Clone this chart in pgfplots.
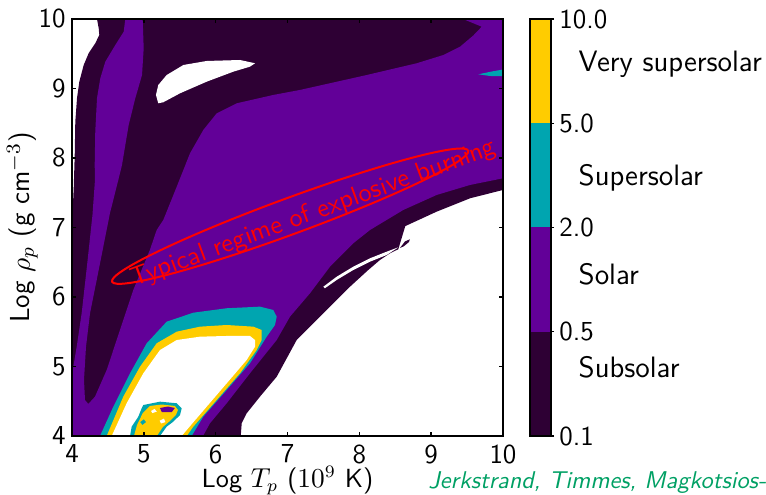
\documentclass[border=0pt]{standalone}
\usepackage{pgfplots}
\pgfplotsset{compat=1.18}

\definecolor{csub}{RGB}{46,0,52}
\definecolor{csol}{RGB}{98,0,152}
\definecolor{csup}{RGB}{0,165,176}
\definecolor{cvery}{RGB}{255,204,0}
\definecolor{cgreen}{RGB}{0,160,100}

\begin{document}
\begin{tikzpicture}[font=\sffamily\fontsize{11}{13}\selectfont]
\useasboundingbox (-28.8pt,-23.6pt) rectangle (277.6pt,174.4pt);
\clip (-28.8pt,-23.6pt) rectangle (277.6pt,174.4pt);

% main map
\begin{axis}[
  at={(0,0)}, anchor=south west,
  scale only axis, width=172.4pt, height=166.8pt,
  xmin=4, xmax=10, ymin=4, ymax=10,
  xtick={4,5,...,10}, ytick={4,5,...,10},
  axis on top,
  axis line style={line width=0.7pt},
  tick style={black, line width=0.6pt},
  major tick length=1.7pt,
  /pgf/number format/assume math mode=true,
  xlabel={Log $T_p$ ($10^9$ K)},
  ylabel={Log $\rho_p$ (g cm$^{-3}$)},
  xlabel style={font=\sffamily\fontsize{10.5}{12}\selectfont},
  xlabel shift=-5.8pt,
  ylabel shift=-6.5pt,
  yticklabel style={xshift=1pt},
]
% subsolar
\addplot[fill=csub, draw=none] coordinates {
(4.348,10) (10,10) (10,7.540) (9.541,7.420) (9.077,7.228) (8.640,7.020)
(8.590,6.850) (8.543,6.687) (8.427,6.629) (8.288,6.533) (8.125,6.389) (7.870,6.148)
(7.638,5.910) (7.453,5.717) (7.268,5.525) (7.128,5.381) (6.850,4.853)
(6.617,4.566) (6.432,4.327) (6.363,4.183) (6.349,4) (4,4) (4,7.0)
(4.007,7.180) (4.024,7.568) (4.038,8.043) (4.046,8.522) (4.070,8.863)
(4.102,9.098) (4.163,9.338) (4.232,9.507) (4.324,9.650) (4.380,9.770)
(4.372,9.866)};
% solar
\addplot[fill=csol, draw=none] coordinates {
(4.742,10) (4.720,9.817) (4.603,9.626) (4.464,9.386) (4.394,9.147)
(4.348,8.859) (4.324,8.379) (4.316,7.899) (4.320,7.684) (4.285,7.180)
(4.213,6.489) (4.135,5.770) (4.065,5.281) (4.018,4.993) (4,4.806) (4,4)
(5.824,4) (5.921,4.183) (6.154,4.471) (6.478,4.902) (6.850,5.381)
(7.035,5.717) (7.313,6.053) (7.592,6.436) (7.916,6.773) (8.149,6.964)
(8.612,7.252) (9.077,7.468) (9.541,7.612) (10,7.708) (10,10) (9.443,10)
(9.704,9.889) (9.587,9.763) (9.402,9.601) (9.170,9.482) (8.799,9.363)
(8.103,9.194) (7.174,8.979) (6.802,8.907) (6.293,8.787) (6.014,8.643)
(5.828,8.403) (5.643,8.068) (5.458,7.587) (5.271,7.108) (5.179,6.964)
(5.084,6.676) (4.853,6.101) (4.668,5.525) (4.483,4.950) (4.320,4.566)
(4.227,4.461) (4.181,4.518) (4.167,4.806) (4.195,5.285) (4.251,5.765)
(4.344,6.245) (4.436,6.724) (4.529,7.209) (4.645,7.684) (4.696,7.899)
(4.789,8.475) (4.881,8.859) (4.975,9.194) (4.998,9.578) (4.984,10)};
% white island at the top
\addplot[fill=white, draw=none] coordinates {
(6.548,9.363) (6.339,9.410) (5.875,9.396) (5.550,9.338) (5.318,9.194)
(5.201,9.050) (5.169,8.907) (5.201,8.787) (5.271,8.802) (5.504,8.931)
(5.875,9.098) (6.246,9.242) (6.478,9.314)};
% white sliver in the lower right band
\addplot[fill=white, draw=none] coordinates {
(7.499,6.148) (7.685,6.292) (7.916,6.436) (8.149,6.557) (8.381,6.652)
(8.543,6.715) (8.381,6.604) (8.149,6.508) (7.916,6.388) (7.685,6.245)
(7.520,6.125)};
\addplot[fill=csub, draw=none] coordinates {
(8.566,6.705) (8.636,6.800) (8.705,6.830) (8.690,6.790) (8.620,6.730)};
% supersolar wedge at the right edge
\addplot[fill=csup, draw=none] coordinates {
(9.657,9.204) (9.847,9.245) (10,9.273) (10,9.176) (9.819,9.180)};
% low density loop
\addplot[fill=csup, draw=none] coordinates {
(4.390,4) (4.575,4.422) (4.808,4.902) (5.040,5.334) (5.318,5.645)
(5.689,5.774) (6.154,5.838) (6.617,5.861) (6.803,5.813) (6.850,5.717)
(6.826,5.597) (6.711,5.429) (6.478,5.046) (6.154,4.662) (5.828,4.278)
(5.666,4)};
\addplot[fill=cvery, draw=none] coordinates {
(4.483,4) (4.714,4.566) (4.947,4.997) (5.179,5.334) (5.458,5.501)
(5.782,5.573) (6.154,5.597) (6.524,5.573) (6.641,5.525) (6.641,5.381)
(6.571,5.237) (6.339,4.902) (6.014,4.518) (5.689,4.134) (5.597,4)};
\addplot[fill=white, draw=none] coordinates {
(4.553,4) (4.761,4.471) (4.993,4.902) (5.225,5.237) (5.458,5.381)
(5.782,5.429) (6.154,5.439) (6.478,5.439) (6.548,5.381) (6.548,5.285)
(6.432,5.094) (6.154,4.758) (5.875,4.422) (5.597,4.086) (5.527,4)};
% small blob
\addplot[fill=csup, draw=none] coordinates {
(4.808,4) (4.831,4.134) (4.923,4.278) (4.970,4.399) (4.993,4.446)
(5.225,4.494) (5.458,4.471) (5.527,4.399) (5.504,4.302) (5.410,4.206)
(5.318,4.134) (5.225,4)};
\addplot[fill=cvery, draw=none] coordinates {
(4.863,4) (4.905,4.158) (4.986,4.331) (5.083,4.432) (5.250,4.453)
(5.432,4.432) (5.475,4.374) (5.447,4.302) (5.363,4.216) (5.265,4.129)
(5.181,4)};
\addplot[fill=csol, draw=none] coordinates {
(5.225,4.403) (5.336,4.424) (5.432,4.403) (5.390,4.345) (5.250,4.345)};
\addplot[fill=csup, draw=none] coordinates {
(4.95,4.20) (5.00,4.24) (5.03,4.20) (4.98,4.16)};
\addplot[fill=white, draw=none] coordinates {
(5.10,4.36) (5.15,4.39) (5.18,4.35) (5.12,4.33)};
\addplot[fill=white, draw=none] coordinates {
(5.22,4.22) (5.28,4.25) (5.30,4.20) (5.24,4.18)};

% annotation
\draw[red, line width=0.8pt, rotate around={20.2:(axis cs:7.037,7.163)}]
  (axis cs:7.037,7.163) ellipse [x radius=75.9pt, y radius=7.2pt];
\node[red, rotate=20.2, anchor=base, inner sep=0pt,
  font=\sffamily\fontsize{10.5}{12}\selectfont]
  at (axis cs:7.397,7.110) {Typical regime of explosive burning};
\end{axis}

% colour bar
\begin{axis}[
  at={(183.2pt,0pt)}, anchor=south west,
  scale only axis, width=8.4pt, height=166.8pt,
  xmin=0, xmax=1, ymin=0, ymax=4,
  xtick=\empty, ytick={0,1,2,3,4},
  yticklabels={0.1,0.5,2.0,5.0,10.0},
  ytick pos=right, yticklabel pos=right,
  tick align=outside, major tick length=1.3pt,
  tick style={black, line width=0.6pt},
  axis on top,
  axis line style={line width=0.7pt},
  yticklabel style={xshift=-1.5pt},
  clip=false,
]
\addplot[fill=csub, draw=none] coordinates {(0,0) (1,0) (1,1) (0,1)};
\addplot[fill=csol, draw=none] coordinates {(0,1) (1,1) (1,2) (0,2)};
\addplot[fill=csup, draw=none] coordinates {(0,2) (1,2) (1,3) (0,3)};
\addplot[fill=cvery, draw=none] coordinates {(0,3) (1,3) (1,4) (0,4)};
\begin{scope}[font=\sffamily\fontsize{11.8}{14}\selectfont]
\node[anchor=base west, inner sep=0pt, xshift=10.9pt] at (axis cs:1,3.493) {Very supersolar};
\node[anchor=base west, inner sep=0pt, xshift=10.9pt] at (axis cs:1,2.404) {Supersolar};
\node[anchor=base west, inner sep=0pt, xshift=10.9pt] at (axis cs:1,1.458) {Solar};
\node[anchor=base west, inner sep=0pt, xshift=10.9pt] at (axis cs:1,0.560) {Subsolar};
\end{scope}
\end{axis}

\node[cgreen, anchor=base west, inner sep=0pt,
  font=\sffamily\itshape\fontsize{9.7}{12}\selectfont]
  at (142.4pt,-21.2pt) {Jerkstrand, Timmes, Magkotsios-};
\end{tikzpicture}
\end{document}
